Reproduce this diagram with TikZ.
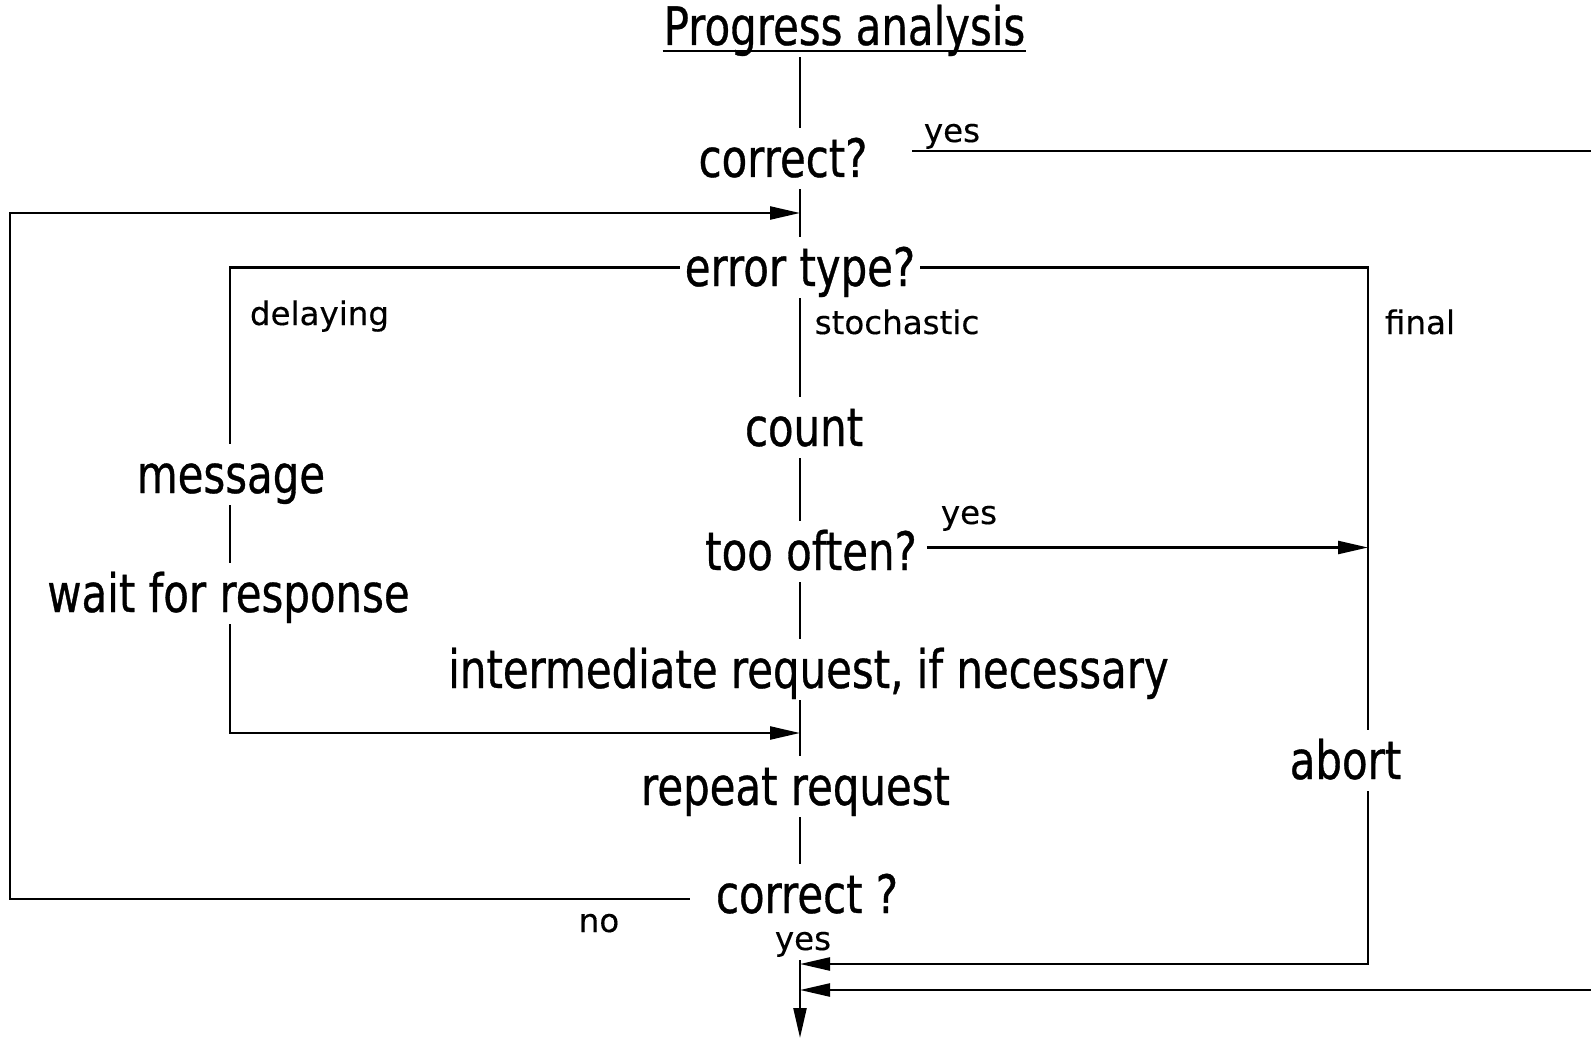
\documentclass[tikz,border=0pt]{standalone}
\usepackage{fontspec}
\setmainfont{DejaVu Sans}[FakeBold=0.3]
\newfontfamily\narrowfont[FakeStretch=0.79,FakeBold=0.6]{DejaVu Sans}
\usetikzlibrary{arrows.meta}
\begin{document}
\begin{tikzpicture}[x=1pt,y=1pt,
  line width=2.4pt,
  big/.style={font=\narrowfont\fontsize{53}{60}\selectfont, inner ysep=0pt,
    inner xsep=4pt, text height=48pt, text depth=11pt, anchor=base},
  small/.style={font=\fontsize{32.5}{36}\selectfont, inner sep=0pt, anchor=base},
  arr/.style={-{Triangle[length=30pt,width=13pt]}}]
\path[use as bounding box] (0,0) rectangle (1591,-1038);

% guide lines of the chart
\coordinate (sp) at (800,0);
\coordinate (rail) at (1368,0);
\coordinate (inner) at (230,0);
\coordinate (outer) at (10,-213);
\coordinate (edge) at (1591,0);
\coordinate (ystart) at (912,-151);
\coordinate (join) at (800,-733);
\coordinate (rin) at (1591,-990);
\coordinate (ain) at (800,-964);
\coordinate (merge) at (800,-960);
\coordinate (exit) at (800,-1038);

% steps
\node[big, inner xsep=0pt, text depth=5pt] (title) at (844.5,-45) {Progress analysis};
\node[big] (c1) at (783,-177) {correct?};
\node[big] (et) at (800,-286) {error type?};
\node[big] (cnt) at (804,-446) {count};
\node[big] (msg) at (231,-493) {message};
\node[big, inner xsep=9pt] (often) at (811,-570) {too often?};
\node[big] (wait) at (228.5,-612) {wait for response};
\node[big] (inter) at (808.5,-688) {intermediate request, if necessary};
\node[big] (rep) at (795.5,-805) {repeat request};
\node[big] (abort) at (1345.5,-779) {abort};
\node[big, inner xsep=25pt] (c2) at (807,-913) {correct ?};

% branch labels
\node[small] (y1) at (952,-142) {yes};
\node[small] (dl) at (319.5,-325) {delaying};
\node[small] (st) at (897,-334) {stochastic};
\node[small] (fi) at (1420,-334) {final};
\node[small] (y2) at (969,-524) {yes};
\node[small] (no) at (599,-932) {no};
\node[small] (y3) at (803,-950) {yes};

% underline of the heading
\draw (title.south west) -- (title.south east);

% main spine
\draw ([yshift=-6pt]title.south -| sp) -- (c1.north -| sp);
\draw (c1.south -| sp) -- (et.north -| sp);
\draw (et.south -| sp) -- (cnt.north -| sp);
\draw (cnt.south -| sp) -- (often.north -| sp);
\draw (often.south -| sp) -- (inter.north -| sp);
\draw (inter.south -| sp) -- (rep.north -| sp);
\draw (rep.south -| sp) -- (c2.north -| sp);
\draw[arr] (merge) -- (exit);

% correct at once
\draw (ystart) -- (ystart -| edge);
\draw[arr] (rin) -- (rin -| sp);

% retry loop
\draw[arr] ([yshift=-4.5pt]c2.west) -| (outer) -- (outer -| sp);

% error branches
\draw (et.west) -| (msg.north -| inner);
\draw (msg.south -| inner) -- (wait.north -| inner);
\draw[arr] (wait.south -| inner) |- (join);
\draw (et.east) -| (abort.north -| rail);
\draw[arr] ([yshift=4pt]often.east) -- ([yshift=4pt]often.east -| rail);
\draw[arr] (abort.south -| rail) |- (ain);
\end{tikzpicture}
\end{document}
